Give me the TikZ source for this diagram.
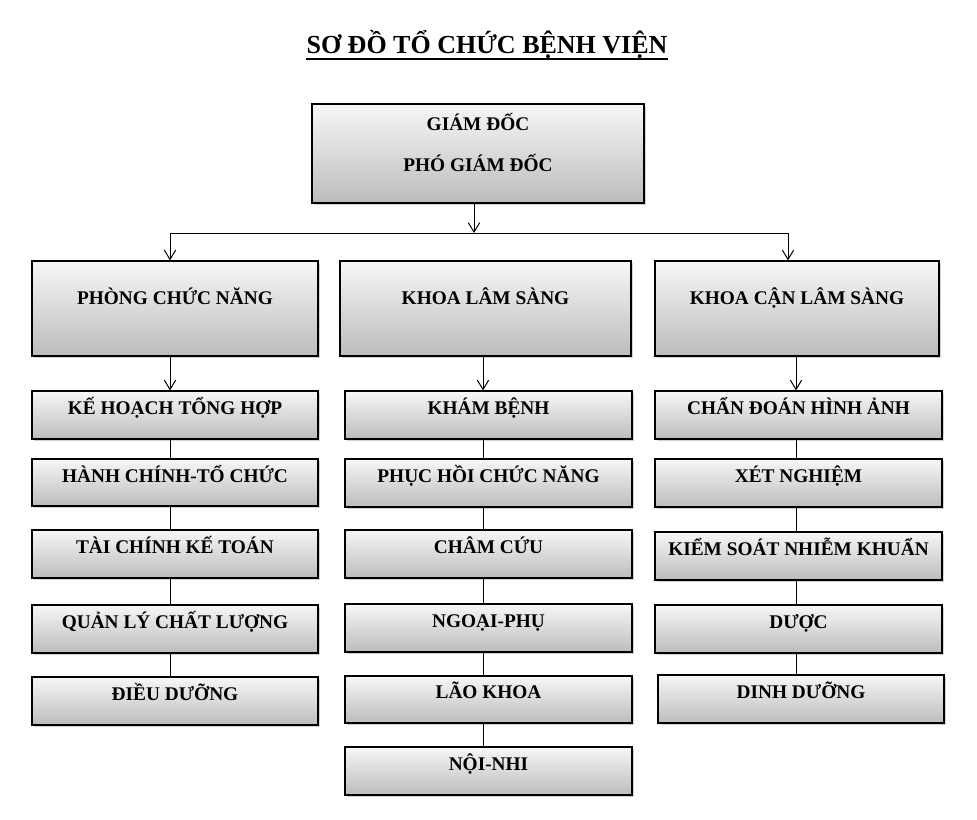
\documentclass[tikz,border=0pt]{standalone}
\usepackage{fontspec}
\setmainfont{Liberation Serif}
\usetikzlibrary{arrows.meta,shadows,fit,calc}
\definecolor{boxtop}{RGB}{247,247,247}
\definecolor{boxbot}{RGB}{188,188,188}
\begin{document}
\begin{tikzpicture}[x=0.75pt,y=-0.75pt,
  box/.style={draw=black, line width=0.9pt, inner sep=0pt, top color=boxtop, bottom color=boxbot,
    drop shadow={opacity=0.35, shadow xshift=1.6pt, shadow yshift=-1.6pt}},
  txt/.style={anchor=base, inner sep=0pt, font=\fontsize{14.5}{16}\selectfont\bfseries},
  conn/.style={line width=0.75pt},
  arr/.style={line width=0.75pt, -{Straight Barb[length=7pt,width=8.5pt,line width=0.75pt]}},
  arr2/.style={line width=0.75pt, {Straight Barb[length=7pt,width=8.5pt,line width=0.75pt]}-{Straight Barb[length=7pt,width=8.5pt,line width=0.75pt]}}
]
\useasboundingbox (0,0) rectangle (977,819);
\fill[white] (0,0) rectangle (977,819);

% title
\node[anchor=base, inner sep=0pt, font=\fontsize{19.5}{22}\selectfont\bfseries] (title) at (487,53) {SƠ ĐỒ TỔ CHỨC BỆNH VIỆN};
\draw[line width=1.5pt] ([yshift=-4.6pt]title.base west) -- ([yshift=-4.6pt]title.base east);

% column coordinates
\coordinate (cT) at (474,0);
\coordinate (c1) at (170,0);
\coordinate (c2) at (483,0);
\coordinate (c3) at (796,0);
\coordinate (cR) at (788,0);
\coordinate (hy) at (0,233);

% top box
\node[box, fit={(312,104) (644,203)}] (top) {};
\node[txt] (topa) at (478,130) {GIÁM ĐỐC};
\node[txt] (topb) at (478,171) {PHÓ GIÁM ĐỐC};

% second row
\node[box, fit={(32,261) (318,356)}] (pc) {};
\node[txt] at (175,304) {PHÒNG CHỨC NĂNG};
\node[box, fit={(340,261) (631,356)}] (kl) {};
\node[txt] at (485.5,304) {KHOA LÂM SÀNG};
\node[box, fit={(655,261) (939,356)}] (kc) {};
\node[txt] at (797,304) {KHOA CẬN LÂM SÀNG};

% column 1
\node[box, fit={(32,391) (318,439)}] (a1) {};
\node[txt] at (175,414) {KẾ HOẠCH TỔNG HỢP};
\node[box, fit={(32,459) (318,506)}] (a2) {};
\node[txt] at (175,482) {HÀNH CHÍNH-TỔ CHỨC};
\node[box, fit={(32,530) (318,578)}] (a3) {};
\node[txt] at (175,553) {TÀI CHÍNH KẾ TOÁN};
\node[box, fit={(32,605) (318,653)}] (a4) {};
\node[txt] at (175,628) {QUẢN LÝ CHẤT LƯỢNG};
\node[box, fit={(32,677) (318,725)}] (a5) {};
\node[txt] at (175,700) {ĐIỀU DƯỠNG};

% column 2
\node[box, fit={(345,391) (632,439)}] (b1) {};
\node[txt] at (488.5,414) {KHÁM BỆNH};
\node[box, fit={(345,459) (632,507)}] (b2) {};
\node[txt] at (488.5,482) {PHỤC HỒI CHỨC NĂNG};
\node[box, fit={(345,530) (632,578)}] (b3) {};
\node[txt] at (488.5,553) {CHÂM CỨU};
\node[box, fit={(345,604) (632,652)}] (b4) {};
\node[txt] at (488.5,627) {NGOẠI-PHỤ};
\node[box, fit={(345,676) (632,723)}] (b5) {};
\node[txt] at (488.5,698) {LÃO KHOA};
\node[box, fit={(345,747) (632,795)}] (b6) {};
\node[txt] at (488.5,770) {NỘI-NHI};

% column 3
\node[box, fit={(655,391) (942,439)}] (d1) {};
\node[txt] at (798.5,414) {CHẨN ĐOÁN HÌNH ẢNH};
\node[box, fit={(655,459) (942,507)}] (d2) {};
\node[txt] at (798.5,482) {XÉT NGHIỆM};
\node[box, fit={(655,532) (942,580)}] (d3) {};
\node[txt] at (798.5,555) {KIỂM SOÁT NHIỄM KHUẨN};
\node[box, fit={(655,605) (942,653)}] (d4) {};
\node[txt] at (798.5,628) {DƯỢC};
\node[box, fit={(658,675) (944,723)}] (d5) {};
\node[txt] at (801,698) {DINH DƯỠNG};

% connectors
\draw[arr] (top.south -| cT) -- (cT |- hy);
\draw[arr2] (pc.north -| c1) -- (c1 |- hy) -- (cR |- hy) -- (kc.north -| cR);

\draw[arr] (pc.south -| c1) -- (a1.north -| c1);
\draw[conn] (a1.south -| c1) -- (a2.north -| c1);
\draw[conn] (a2.south -| c1) -- (a3.north -| c1);
\draw[conn] (a3.south -| c1) -- (a4.north -| c1);
\draw[conn] (a4.south -| c1) -- (a5.north -| c1);

\draw[arr] (kl.south -| c2) -- (b1.north -| c2);
\draw[conn] (b1.south -| c2) -- (b2.north -| c2);
\draw[conn] (b2.south -| c2) -- (b3.north -| c2);
\draw[conn] (b3.south -| c2) -- (b4.north -| c2);
\draw[conn] (b4.south -| c2) -- (b5.north -| c2);
\draw[conn] (b5.south -| c2) -- (b6.north -| c2);

\draw[arr] (kc.south -| c3) -- (d1.north -| c3);
\draw[conn] (d1.south -| c3) -- (d2.north -| c3);
\draw[conn] (d2.south -| c3) -- (d3.north -| c3);
\draw[conn] (d3.south -| c3) -- (d4.north -| c3);
\draw[conn] (d4.south -| c3) -- (d5.north -| c3);
\end{tikzpicture}
\end{document}
